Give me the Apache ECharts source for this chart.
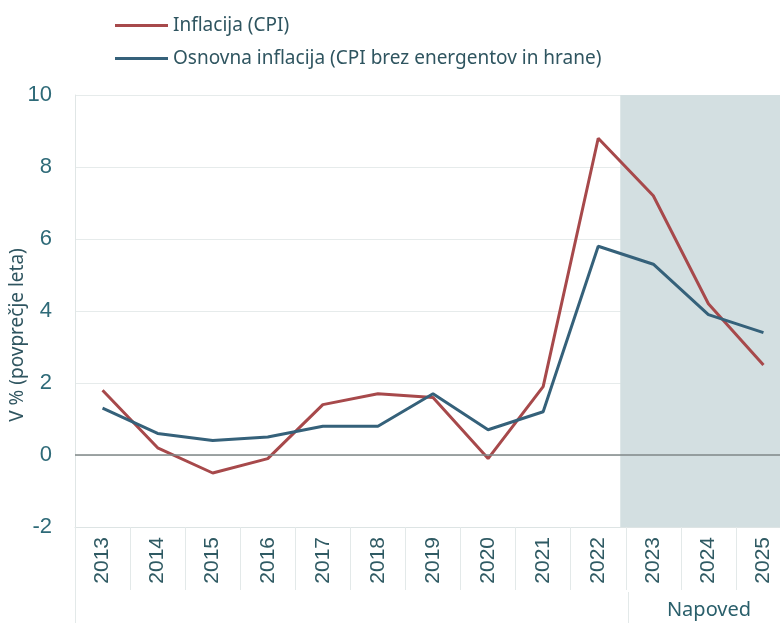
<!DOCTYPE html>
<html style="height: 100%">
<head>
<meta charset="utf-8"/>
<script type="text/javascript" src="https://cdn.jsdelivr.net/npm/echarts@6/dist/echarts.min.js"></script>
</head>
<body style="height: 100%; margin: 0; background: #fff">
<div id="container" style="width: 780px; height: 623px"></div>
<script type="text/javascript">
// podatki
var years = ['2013', '2014', '2015', '2016', '2017', '2018', '2019', '2020', '2021', '2022', '2023', '2024', '2025'];
var inflacija = [1.8, 0.2, -0.5, -0.1, 1.4, 1.7, 1.6, -0.1, 1.9, 8.8, 7.2, 4.2, 2.5];
var osnovna = [1.3, 0.6, 0.4, 0.5, 0.8, 0.8, 1.7, 0.7, 1.2, 5.8, 5.3, 3.9, 3.4];
var yTicks = [-2, 0, 2, 4, 6, 8, 10];
var napovedOd = 9.4; // zacetek sencenja (na skritem vrednostnem x)

var fontFam = '"Noto Sans", "Liberation Sans", sans-serif';
var txtColor = '#2f5560';

var myChart = echarts.init(document.getElementById('container'));

var option = {
	animation: false,
	backgroundColor: '#fff',
	// graf sega malo cez desni rob slike
	grid: { left: 75, width: 716, top: 95, bottom: 96, outerBoundsMode: 'none', containLabel: false },
	legend: {
		orient: 'vertical',
		left: 110,
		top: 11,
		icon: 'rect',
		itemWidth: 53,
		itemHeight: 3,
		itemGap: 14,
		textStyle: { fontFamily: fontFam, fontSize: 19, color: txtColor },
		data: ['Inflacija (CPI)', 'Osnovna inflacija (CPI brez energentov in hrane)']
	},
	xAxis: [{
		type: 'category',
		data: years,
		boundaryGap: true,
		axisLine: { onZero: false, lineStyle: { color: '#dde4e4', width: 1 } },
		axisTick: { show: true, length: 63, lineStyle: { color: '#e3e9e9' } },
		splitLine: { show: false },
		axisLabel: { rotate: 90, margin: 10, fontFamily: '"Liberation Sans", sans-serif', fontSize: 21, color: '#2f5a63' }
	}, {
		type: 'value',
		min: -0.5,
		max: 12.5,
		show: false,
		splitLine: { show: false }
	}],
	yAxis: {
		type: 'value',
		min: yTicks[0],
		max: yTicks[yTicks.length - 1],
		interval: 2,
		axisLine: { show: true, onZero: false, lineStyle: { color: '#e0e6e6' } },
		axisTick: { show: false },
		splitLine: { lineStyle: { color: '#e6ebeb', width: 1 } },
		axisLabel: { margin: 23, fontFamily: '"Liberation Sans", sans-serif', fontSize: 22, color: '#2e6a78' }
	},
	series: [{
		// senca za napoved + nicelna crta
		type: 'line',
		xAxisIndex: 1,
		data: [],
		silent: true,
		markArea: {
			silent: true,
			itemStyle: { color: '#d3dfe1' },
			data: [[{ xAxis: napovedOd, yAxis: yTicks[0] }, { xAxis: 12.5, yAxis: yTicks[yTicks.length - 1] }]]
		},
		markLine: {
			silent: true,
			symbol: 'none',
			label: { show: false },
			lineStyle: { color: '#7f8787', width: 1.5, type: 'solid' },
			data: [{ yAxis: 0 }]
		}
	}, {
		name: 'Inflacija (CPI)',
		type: 'line',
		data: inflacija,
		symbol: 'none',
		lineStyle: { color: '#a7494b', width: 3 },
		itemStyle: { color: '#a7494b' },
		z: 3
	}, {
		name: 'Osnovna inflacija (CPI brez energentov in hrane)',
		type: 'line',
		data: osnovna,
		symbol: 'none',
		lineStyle: { color: '#35617a', width: 3 },
		itemStyle: { color: '#35617a' },
		z: 4
	}],
	graphic: [{
		type: 'text',
		x: 18, y: 335,
		rotation: Math.PI / 2,
		style: { text: 'V % (povprečje leta)', fontFamily: fontFam, fontSize: 19, fill: txtColor, align: 'center', verticalAlign: 'middle' }
	}, {
		type: 'line',
		shape: { x1: 75.5, y1: 527, x2: 75.5, y2: 623 },
		style: { stroke: '#e3e9e9', lineWidth: 1 }
	}, {
		type: 'line',
		shape: { x1: 628.5, y1: 592, x2: 628.5, y2: 623 },
		style: { stroke: '#e3e9e9', lineWidth: 1 }
	}, {
		type: 'text',
		x: 709, y: 610,
		style: { text: 'Napoved', fontFamily: fontFam, fontSize: 20, fill: '#2a5f6b', align: 'center', verticalAlign: 'middle' }
	}]
};

myChart.setOption(option);
</script>
</body>
</html>
